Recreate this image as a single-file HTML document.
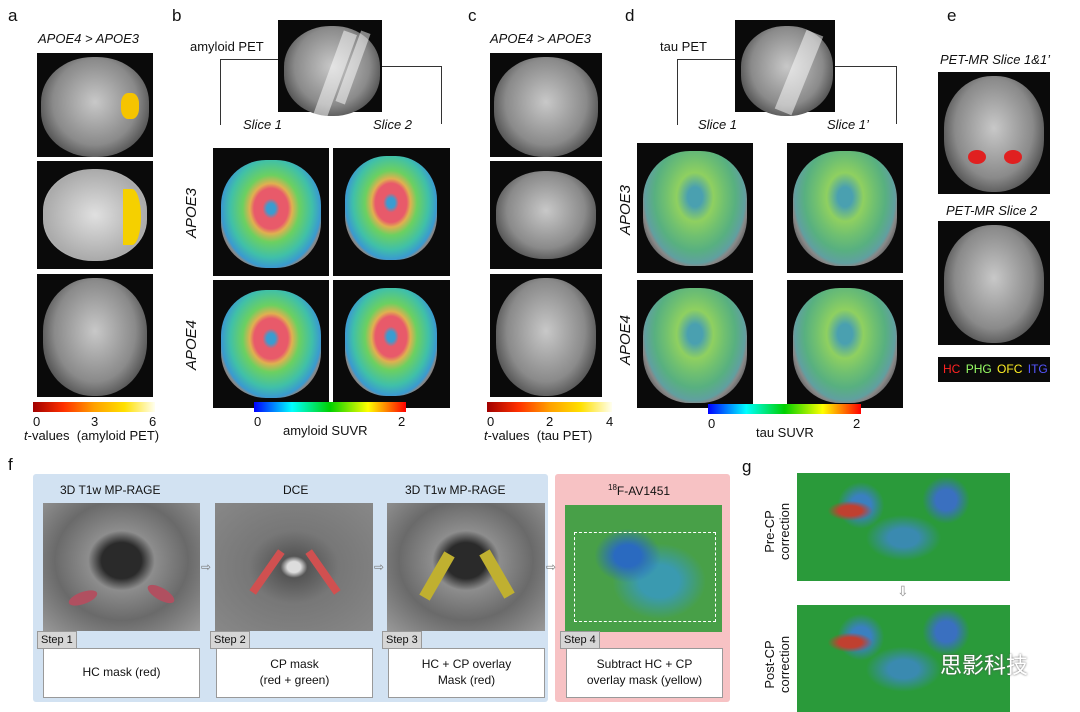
<!DOCTYPE html><html><head><meta charset="utf-8"><style>
body{margin:0;width:1080px;height:712px;background:#fff;position:relative;overflow:hidden;font-family:"Liberation Sans",sans-serif;color:#111}
div{position:absolute;box-sizing:border-box}
.L{font-size:17px}
.t{font-size:12px;white-space:nowrap}
.bk{background:#0a0a0a}
.br{border-radius:48%/45%;background:radial-gradient(ellipse at 50% 45%,#c8c8c8 0%,#8a8a8a 55%,#555 75%,#bbb 80%,#222 86%)}
.pet{border-radius:45%/42%;background:radial-gradient(ellipse at 50% 45%,#3a9cd0 0 6%,#e85a6a 12%,#e85a6a 24%,#e0b050 30%,#6cd060 40%,#40c0a8 58%,#3a9ad0 70%,#888 74%,#222 92%)}
.tau{border-radius:45%/42%;background:radial-gradient(ellipse at 50% 40%,#4aa0b0 0 10%,#8fd060 25%,#70c070 40%,#58b080 55%,#60a0a0 68%,#888 72%,#222 90%)}
.ct{font-style:italic;font-size:13px}
.box{background:#fff;border:1px solid #999;font-size:12px;text-align:center;display:flex;align-items:center;justify-content:center;line-height:1.3}
.st{background:#d6d6d6;border:1px solid #999;font-size:11px;padding:2px 3px}
.mri{background:radial-gradient(ellipse at 50% 45%,#2a2a2a 0 18%,#8d8d8d 30%,#6a6a6a 60%,#999 100%)}
.gg{background:radial-gradient(ellipse at 25% 35%,#c04030 0 5%,transparent 10%),radial-gradient(circle at 30% 30%,#3a80c0 0 6%,transparent 14%),radial-gradient(circle at 70% 25%,#3a70c0 0 6%,transparent 14%),radial-gradient(ellipse at 50% 60%,#3a8ab0 0 10%,transparent 25%),#2a9a3a}
</style></head><body>
<div class="L" style="left:8px;top:6px">a</div>
<div class="L" style="left:172px;top:6px">b</div>
<div class="L" style="left:468px;top:6px">c</div>
<div class="L" style="left:625px;top:6px">d</div>
<div class="L" style="left:947px;top:6px">e</div>
<div class="L" style="left:8px;top:455px">f</div>
<div class="L" style="left:742px;top:457px">g</div>

<!-- a -->
<div class="ct" style="left:38px;top:31px">APOE4 &gt; APOE3</div>
<div class="bk" style="left:37px;top:53px;width:116px;height:104px"><div class="br" style="left:4px;top:4px;width:108px;height:100px"></div><div style="left:84px;top:40px;width:18px;height:26px;background:#f5c400;border-radius:40%"></div></div>
<div class="bk" style="left:37px;top:161px;width:116px;height:108px"><div class="br" style="left:6px;top:8px;width:104px;height:92px;background:radial-gradient(ellipse,#e0e0e0,#aaa 70%,#ccc 82%,#222 88%)"></div><div style="left:86px;top:28px;width:18px;height:56px;background:#f5d000;border-radius:0 50% 50% 0"></div></div>
<div class="bk" style="left:37px;top:274px;width:116px;height:123px"><div class="br" style="left:6px;top:4px;width:104px;height:118px"></div></div>
<div style="left:33px;top:402px;width:122px;height:10px;background:linear-gradient(90deg,#a00000,#ff3000,#ffa000,#ffe000,#fffff0)"></div>
<div class="t" style="left:33px;top:414px;font-size:13px">0</div><div class="t" style="left:91px;top:414px;font-size:13px">3</div><div class="t" style="left:149px;top:414px;font-size:13px">6</div>
<div class="t" style="left:24px;top:428px;font-size:13px"><i>t</i>-values &nbsp;(amyloid PET)</div>

<!-- b -->
<div class="t" style="left:190px;top:39px;font-size:13px">amyloid PET</div>
<div class="bk" style="left:278px;top:20px;width:104px;height:92px"><div class="br" style="left:6px;top:6px;width:96px;height:90px"></div><div style="left:50px;top:10px;width:14px;height:90px;background:rgba(255,255,255,.5);transform:rotate(20deg)"></div><div style="left:70px;top:10px;width:10px;height:75px;background:rgba(255,255,255,.5);transform:rotate(20deg)"></div></div>
<div style="left:220px;top:59px;width:58px;height:66px;border-left:1px solid #333;border-top:1px solid #333"></div>
<div style="left:382px;top:66px;width:60px;height:58px;border-right:1px solid #333;border-top:1px solid #333"></div>
<div class="ct" style="left:243px;top:117px">Slice 1</div><div class="ct" style="left:373px;top:117px">Slice 2</div>
<div class="bk" style="left:213px;top:148px;width:116px;height:128px"><div class="pet" style="left:8px;top:12px;width:100px;height:108px"></div></div>
<div class="bk" style="left:333px;top:148px;width:117px;height:128px"><div class="pet" style="left:12px;top:8px;width:92px;height:104px"></div></div>
<div class="bk" style="left:213px;top:280px;width:116px;height:128px"><div class="pet" style="left:8px;top:10px;width:100px;height:108px"></div></div>
<div class="bk" style="left:333px;top:280px;width:117px;height:128px"><div class="pet" style="left:12px;top:8px;width:92px;height:108px"></div></div>
<div class="ct" style="left:183px;font-size:15px;transform:rotate(-90deg);transform-origin:left top;top:238px">APOE3</div>
<div class="ct" style="left:183px;top:370px;font-size:15px;transform:rotate(-90deg);transform-origin:left top">APOE4</div>
<div style="left:254px;top:402px;width:152px;height:10px;background:linear-gradient(90deg,#0000ff,#00ffff,#00d000,#ffff00,#ff0000)"></div>
<div class="t" style="left:254px;top:414px;font-size:13px">0</div><div class="t" style="left:398px;top:414px;font-size:13px">2</div>
<div class="t" style="left:283px;top:423px;font-size:13px">amyloid SUVR</div>

<!-- c -->
<div class="ct" style="left:490px;top:31px">APOE4 &gt; APOE3</div>
<div class="bk" style="left:490px;top:53px;width:112px;height:104px"><div class="br" style="left:4px;top:4px;width:104px;height:100px"></div></div>
<div class="bk" style="left:490px;top:161px;width:112px;height:108px"><div class="br" style="left:6px;top:10px;width:100px;height:88px"></div></div>
<div class="bk" style="left:490px;top:274px;width:112px;height:123px"><div class="br" style="left:6px;top:4px;width:100px;height:118px"></div></div>
<div style="left:487px;top:402px;width:125px;height:10px;background:linear-gradient(90deg,#a00000,#ff3000,#ffa000,#ffe000,#fffff0)"></div>
<div class="t" style="left:487px;top:414px;font-size:13px">0</div><div class="t" style="left:546px;top:414px;font-size:13px">2</div><div class="t" style="left:606px;top:414px;font-size:13px">4</div>
<div class="t" style="left:484px;top:428px;font-size:13px"><i>t</i>-values &nbsp;(tau PET)</div>

<!-- d -->
<div class="t" style="left:660px;top:39px;font-size:13px">tau PET</div>
<div class="bk" style="left:735px;top:20px;width:100px;height:92px"><div class="br" style="left:6px;top:6px;width:92px;height:90px"></div><div style="left:55px;top:10px;width:18px;height:85px;background:rgba(255,255,255,.5);transform:rotate(22deg)"></div></div>
<div style="left:677px;top:59px;width:58px;height:66px;border-left:1px solid #333;border-top:1px solid #333"></div>
<div style="left:835px;top:66px;width:62px;height:58px;border-right:1px solid #333;border-top:1px solid #333"></div>
<div class="ct" style="left:698px;top:117px">Slice 1</div><div class="ct" style="left:827px;top:117px">Slice 1’</div>
<div class="bk" style="left:637px;top:143px;width:116px;height:130px"><div class="tau" style="left:6px;top:8px;width:104px;height:115px"></div></div>
<div class="bk" style="left:787px;top:143px;width:116px;height:130px"><div class="tau" style="left:6px;top:8px;width:104px;height:115px"></div></div>
<div class="bk" style="left:637px;top:280px;width:116px;height:128px"><div class="tau" style="left:6px;top:8px;width:104px;height:115px"></div></div>
<div class="bk" style="left:787px;top:280px;width:116px;height:128px"><div class="tau" style="left:6px;top:8px;width:104px;height:115px"></div></div>
<div class="ct" style="left:617px;top:235px;font-size:15px;transform:rotate(-90deg);transform-origin:left top">APOE3</div>
<div class="ct" style="left:617px;top:365px;font-size:15px;transform:rotate(-90deg);transform-origin:left top">APOE4</div>
<div style="left:708px;top:404px;width:153px;height:10px;background:linear-gradient(90deg,#0000ff,#00ffff,#00d000,#ffff00,#ff0000)"></div>
<div class="t" style="left:708px;top:416px;font-size:13px">0</div><div class="t" style="left:853px;top:416px;font-size:13px">2</div>
<div class="t" style="left:756px;top:425px;font-size:13px">tau SUVR</div>

<!-- e -->
<div class="ct" style="left:940px;top:52px">PET-MR Slice 1&amp;1’</div>
<div class="bk" style="left:938px;top:72px;width:112px;height:122px"><div class="br" style="left:6px;top:4px;width:100px;height:116px"></div><div style="left:30px;top:78px;width:18px;height:14px;background:#e02020;border-radius:50%"></div><div style="left:66px;top:78px;width:18px;height:14px;background:#e02020;border-radius:50%"></div></div>
<div class="ct" style="left:946px;top:203px">PET-MR Slice 2</div>
<div class="bk" style="left:938px;top:221px;width:112px;height:124px"><div class="br" style="left:6px;top:4px;width:100px;height:118px"></div></div>
<div class="bk t" style="left:938px;top:357px;width:112px;height:25px;font-size:12px;padding:5px 5px;word-spacing:2px"><span style="color:#f22">HC</span> <span style="color:#9f6">PHG</span> <span style="color:#fe2">OFC</span> <span style="color:#55f">ITG</span></div>

<!-- f -->
<div style="left:33px;top:474px;width:515px;height:228px;background:#d2e2f2;border-radius:3px"></div>
<div style="left:555px;top:474px;width:175px;height:228px;background:#f7c2c4;border-radius:3px"></div>
<div class="t" style="left:60px;top:483px">3D T1w MP-RAGE</div>
<div class="t" style="left:283px;top:483px">DCE</div>
<div class="t" style="left:405px;top:483px">3D T1w MP-RAGE</div>
<div class="t" style="left:608px;top:483px"><sup style="font-size:8px">18</sup>F-AV1451</div>
<div class="mri" style="left:43px;top:503px;width:157px;height:128px"></div>
<div style="left:68px;top:592px;width:30px;height:12px;background:#b05060;border-radius:50%;transform:rotate(-20deg)"></div>
<div style="left:146px;top:588px;width:30px;height:12px;background:#b05060;border-radius:50%;transform:rotate(30deg)"></div>
<div class="mri" style="left:215px;top:503px;width:158px;height:128px;background:radial-gradient(ellipse at 50% 50%,#ddd 0 6%,#555 12%,#777 40%,#888 100%)"></div>
<div style="left:242px;top:568px;width:50px;height:8px;background:#d05050;transform:rotate(-55deg)"></div>
<div style="left:298px;top:568px;width:50px;height:8px;background:#d05050;transform:rotate(55deg)"></div>
<div class="mri" style="left:387px;top:503px;width:158px;height:128px"></div>
<div style="left:412px;top:570px;width:50px;height:12px;background:#c0b030;transform:rotate(-60deg)"></div>
<div style="left:472px;top:568px;width:50px;height:12px;background:#c0b030;transform:rotate(60deg)"></div>
<div style="left:565px;top:505px;width:157px;height:127px;background:radial-gradient(ellipse at 40% 40%,#2a6ac0 0 10%,transparent 25%),radial-gradient(ellipse at 60% 60%,#3a9ab0 0 15%,transparent 35%),#48a048"></div>
<div style="left:574px;top:532px;width:142px;height:90px;border:1px dashed #fff"></div>
<div class="st" style="left:37px;top:631px">Step 1</div><div class="box" style="left:43px;top:648px;width:157px;height:50px">HC mask (red)</div>
<div class="st" style="left:210px;top:631px">Step 2</div><div class="box" style="left:216px;top:648px;width:157px;height:50px">CP mask<br>(red + green)</div>
<div class="st" style="left:382px;top:631px">Step 3</div><div class="box" style="left:388px;top:648px;width:157px;height:50px">HC + CP overlay<br>Mask (red)</div>
<div class="st" style="left:560px;top:631px">Step 4</div><div class="box" style="left:566px;top:648px;width:157px;height:50px">Subtract HC + CP<br>overlay mask (yellow)</div>
<div class="t" style="left:201px;top:560px;color:#777">⇨</div><div class="t" style="left:374px;top:560px;color:#777">⇨</div><div class="t" style="left:546px;top:560px;color:#777">⇨</div>

<!-- g -->
<div class="gg" style="left:797px;top:473px;width:213px;height:108px"></div>
<div class="gg" style="left:797px;top:605px;width:213px;height:107px"></div>
<div class="t" style="left:762px;top:560px;font-size:13px;line-height:15px;text-align:center;transform:rotate(-90deg);transform-origin:left top">Pre-CP<br>correction</div>
<div class="t" style="left:762px;top:693px;font-size:13px;line-height:15px;text-align:center;transform:rotate(-90deg);transform-origin:left top">Post-CP<br>correction</div>
<div class="t" style="left:897px;top:583px;color:#999;font-size:14px">⇩</div>
<div class="t" style="left:940px;top:648px;font-size:22px;color:#fff;font-family:'Liberation Sans','Noto Sans CJK SC',sans-serif;text-shadow:0 0 2px #555">思影科技</div>
</body></html>
